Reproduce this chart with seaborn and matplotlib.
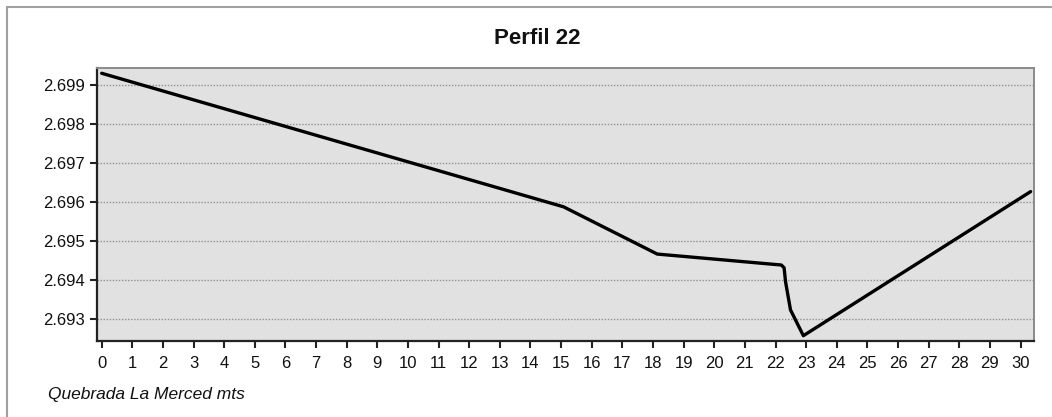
import matplotlib
matplotlib.use("Agg")
import matplotlib.pyplot as plt
from matplotlib.patches import Rectangle
import numpy as np
import pandas as pd
import seaborn as sns

# Profile vertices: distance along the section (m) and elevation
distancia = [0.0, 15.08, 18.14, 22.19, 22.28, 22.33, 22.49, 22.91, 30.33]
elevacion = [2.6993, 2.69588, 2.69467, 2.69439, 2.69432, 2.69395, 2.69324, 2.69258, 2.69627]

x_ticks = list(range(0, 31))
y_ticks = [2.693, 2.694, 2.695, 2.696, 2.697, 2.698, 2.699]

titulo = "Perfil 22"
etiqueta_x = "Quebrada La Merced mts"

df = pd.DataFrame({"distancia": distancia, "elevacion": elevacion})

sns.set_theme(style="white")
plt.rcParams["font.family"] = ["Liberation Sans", "DejaVu Sans"]

fig = plt.figure(figsize=(10.52, 4.17), dpi=100)
fig.patch.set_facecolor("white")
ax = fig.add_axes([97 / 1052, 1 - 341 / 417, (1034 - 97) / 1052, (341 - 68) / 417])
ax.set_facecolor("#e1e1e1")

sns.lineplot(data=df, x="distancia", y="elevacion", ax=ax, color="black",
             linewidth=2.4, sort=False, estimator=None)

ax.set_xlim(-0.153, 30.44)
ax.set_ylim(2.692444, 2.699435)
ax.set_xticks(x_ticks)
ax.set_xticklabels([str(t) for t in x_ticks])
ax.set_yticks(y_ticks)
ax.set_yticklabels([f"{t:.3f}" for t in y_ticks])

ax.yaxis.grid(True, linestyle=(0, (1, 1.2)), color="#909090", linewidth=1.0)
ax.xaxis.grid(False)
ax.set_axisbelow(True)

for side in ("left", "bottom"):
    ax.spines[side].set_color("#222222")
    ax.spines[side].set_linewidth(1.6)
for side in ("top", "right"):
    ax.spines[side].set_color("#8a8a8a")
    ax.spines[side].set_linewidth(1.4)

ax.tick_params(axis="both", which="major", direction="out", length=5,
               width=1.5, color="#222222", labelsize=12, labelcolor="#111111")
ax.tick_params(axis="x", pad=6)
ax.tick_params(axis="y", pad=4)
ax.tick_params(bottom=True, left=True)

ax.set_xlabel("")
ax.set_ylabel("")

fig.text(537 / 1052, 1 - 38 / 417, titulo, ha="center", va="center",
         fontsize=16, fontweight="bold", color="#111111")
fig.text(48 / 1052, 1 - 395 / 417, etiqueta_x, ha="left", va="center",
         fontsize=12.5, fontstyle="italic", color="#111111")

# Outer chart frame
fig.add_artist(Rectangle((7 / 1052, -0.2), 1.2, 1.2 - 7 / 417,
                         transform=fig.transFigure, fill=False,
                         edgecolor="#a0a0a0", linewidth=1.5))

fig.savefig("out.png", dpi=100, facecolor="white")
